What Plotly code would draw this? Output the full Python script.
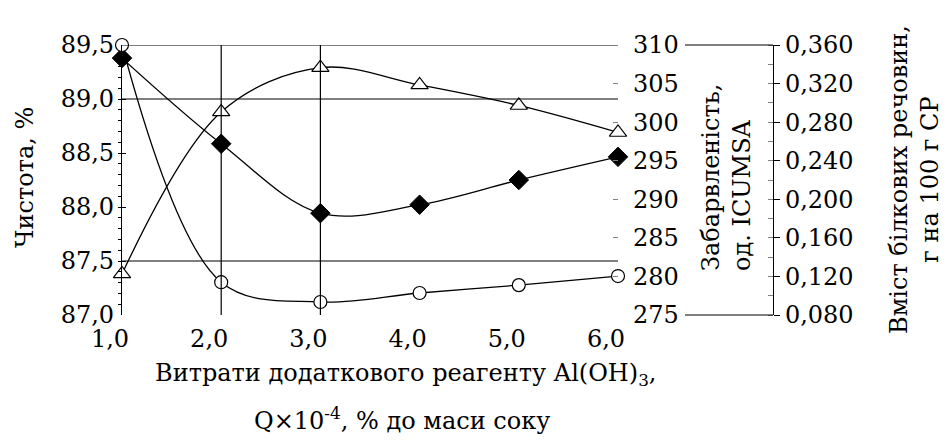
import plotly.graph_objects as go

# ---- data ----
x_vals = [1.0, 2.0, 3.0, 4.0, 5.0, 6.0]
purity = [87.38, 88.88, 89.29, 89.13, 88.94, 88.69]          # triangles, left axis
color_icumsa = [308.3, 297.2, 288.2, 289.3, 292.5, 295.5]     # diamonds, middle axis
protein = [0.360, 0.114, 0.0935, 0.1028, 0.111, 0.1204]       # circles, outer axis

x_ticks = [1, 2, 3, 4, 5, 6]
x_tick_text = ["1,0", "2,0", "3,0", "4,0", "5,0", "6,0"]
y1_ticks = [87.0, 87.5, 88.0, 88.5, 89.0, 89.5]
y1_tick_text = ["87,0", "87,5", "88,0", "88,5", "89,0", "89,5"]
y2_ticks = [275, 280, 285, 290, 295, 300, 305, 310]
y2_tick_text = ["275", "280", "285", "290", "295", "300", "305", "310"]
y3_ticks = [0.08, 0.12, 0.16, 0.20, 0.24, 0.28, 0.32, 0.36]
y3_tick_text = ["0,080", "0,120", "0,160", "0,200", "0,240", "0,280", "0,320", "0,360"]

# ---- geometry (pixels) ----
W, H = 946, 443
L, R_AX3, T, B = 122, 773, 45, 315
X_END = 618
pw = R_AX3 - L
ph = B - T
def px(xp):
    return (xp - L) / pw
def py(yp):
    return (B - yp) / ph

FONT = "DejaVu Serif"
FS = 24

fig = go.Figure()
line_style = dict(color="black", width=1.3, shape="spline", smoothing=1.0)

fig.add_trace(go.Scatter(x=x_vals, y=purity, mode="lines+markers", yaxis="y",
                         line=line_style, cliponaxis=False,
                         marker=dict(symbol="triangle-up", size=15, color="white",
                                     line=dict(color="black", width=1.2))))
fig.add_trace(go.Scatter(x=x_vals, y=color_icumsa, mode="lines+markers", yaxis="y2",
                         line=line_style, cliponaxis=False,
                         marker=dict(symbol="diamond", size=15, color="black",
                                     line=dict(color="black", width=1))))
fig.add_trace(go.Scatter(x=x_vals, y=protein, mode="lines+markers", yaxis="y3",
                         line=line_style, cliponaxis=False,
                         marker=dict(symbol="circle", size=13, color="white",
                                     line=dict(color="black", width=1.2))))

tickfont = dict(family=FONT, size=FS, color="black")

fig.update_layout(
    width=W, height=H,
    margin=dict(l=L, r=W - R_AX3, t=T, b=H - B, pad=0),
    paper_bgcolor="white", plot_bgcolor="white",
    showlegend=False,
    font=dict(family=FONT, size=FS, color="black"),
    xaxis=dict(domain=[0, px(X_END)], range=[1, 6], tickvals=x_ticks, ticktext=x_tick_text,
               showgrid=False, zeroline=False, showline=False, ticks="",
               tickfont=tickfont, ticklabelshift=-12, ticklabelstandoff=7),
    yaxis=dict(range=[87.0, 89.5], tickvals=y1_ticks, ticktext=y1_tick_text,
               showgrid=False, zeroline=False, showline=True, linecolor="black", linewidth=1.2,
               ticks="inside", ticklen=4, tickcolor="black",
               minor=dict(dtick=0.1, ticks="outside", ticklen=3, tickcolor="black"),
               tickfont=tickfont, ticklabelstandoff=2),
    yaxis2=dict(range=[275, 310], tickvals=y2_ticks, ticktext=y2_tick_text,
                overlaying="y", side="right", anchor="x",
                showgrid=False, zeroline=False, showline=False,
                ticks="inside", ticklen=5, tickcolor="gray",
                tickfont=tickfont, ticklabelstandoff=14),
    yaxis3=dict(range=[0.08, 0.36], tickvals=y3_ticks, ticktext=y3_tick_text,
                overlaying="y", side="right", anchor="free", position=1.0,
                showgrid=False, zeroline=False, showline=True, linecolor="black", linewidth=1.2,
                ticks="outside", ticklen=6, tickcolor="black",
                minor=dict(dtick=0.02, ticks="inside", ticklen=5, tickcolor="gray"),
                tickfont=tickfont, ticklabelstandoff=0),
)

# frame / grid lines as in the reference
shapes = []
for yv in [89.5, 89.0, 87.5]:
    shapes.append(dict(type="line", xref="x", yref="y", x0=1, x1=6, y0=yv, y1=yv,
                       line=dict(color="black", width=1.2)))
for xv in [2, 3]:
    shapes.append(dict(type="line", xref="x", yref="y", x0=xv, x1=xv, y0=87.0, y1=89.5,
                       line=dict(color="black", width=1.2)))
for yv in [1.0, 0.0]:
    shapes.append(dict(type="line", xref="paper", yref="paper", x0=px(685), x1=1.0, y0=yv, y1=yv,
                       line=dict(color="black", width=1.2)))
fig.update_layout(shapes=shapes)

tf = dict(family=FONT, size=FS, color="black")
fig.add_annotation(text="Чистота, %", textangle=-90, xref="paper", yref="paper",
                   x=px(25), y=py(178), showarrow=False, font=tf, xanchor="center", yanchor="middle")
fig.add_annotation(text="Забарвленість,<br>од. ICUMSA", textangle=-90, xref="paper", yref="paper",
                   x=px(726), y=py(178), showarrow=False, font=tf, align="left",
                   xanchor="center", yanchor="middle")
fig.add_annotation(text="Вміст білкових речовин,<br>г на 100 г СР", textangle=-90,
                   xref="paper", yref="paper", x=px(914), y=py(180), showarrow=False, font=tf,
                   align="center", xanchor="center", yanchor="middle")
fig.add_annotation(text="Витрати додаткового реагенту Al(OH)<sub>3</sub>,", xref="paper", yref="paper",
                   x=px(405), y=py(374), showarrow=False, font=tf, xanchor="center", yanchor="middle")
fig.add_annotation(text="Q×10<sup>-4</sup>, % до маси соку", xref="paper", yref="paper",
                   x=px(402), y=py(419), showarrow=False, font=tf, xanchor="center", yanchor="middle")

post = (
    "document.body.style.margin='0';"
    "var gd=document.getElementById('{plot_id}');"
    "if (document.fonts && document.fonts.load) {"
    "  document.fonts.load('24px \"DejaVu Serif\"').then(function(){ Plotly.redraw(gd); });"
    "}"
)
fig.write_html("out.html", config={"displayModeBar": False}, post_script=post)
